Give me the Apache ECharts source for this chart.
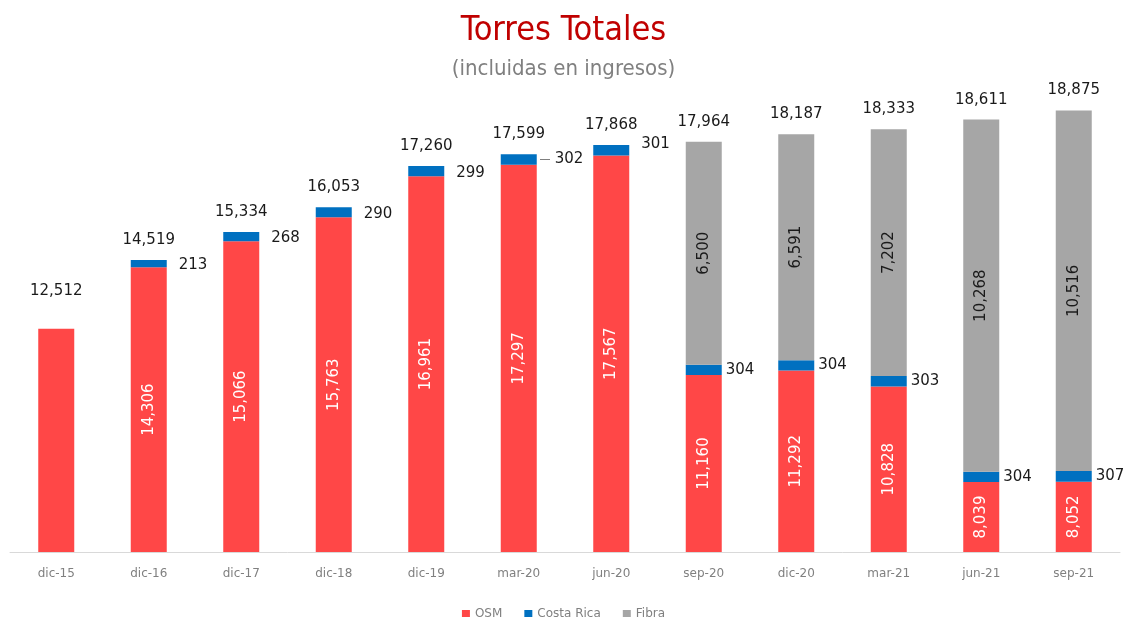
<!DOCTYPE html>
<html>
<head>
<meta charset="utf-8">
<script src="https://cdn.jsdelivr.net/npm/echarts@6/dist/echarts.min.js"></script>
<style>
  html, body { margin: 0; padding: 0; background: #fff; }
  #chart { width: 1127px; height: 617px; }
</style>
</head>
<body>
<div id="chart"></div>
<script>
const categories = ['dic-15', 'dic-16', 'dic-17', 'dic-18', 'dic-19', 'mar-20', 'jun-20', 'sep-20', 'dic-20', 'mar-21', 'jun-21', 'sep-21'];
const osm = [12512, 14306, 15066, 15763, 16961, 17297, 17567, 11160, 11292, 10828, 8039, 8052];
const costaRica = [null, 213, 268, 290, 299, 302, 301, 304, 304, 303, 304, 307];
const fibra = [null, null, null, null, null, null, null, 6500, 6591, 7202, 10268, 10516];
const totals = [12512, 14519, 15334, 16053, 17260, 17599, 17868, 17964, 18187, 18333, 18611, 18875];

// the original chart's value axis starts at 6,000 (hidden), so bars are drawn from there
const axisBase = 6000;

const fmt = v => v.toLocaleString('en-US');
const numFont = "'DejaVu Sans', sans-serif";
const narrowFont = "'Liberation Sans Narrow', 'DejaVu Sans Condensed', sans-serif";

const node = document.getElementById('chart');
const myChart = echarts.init(node);

myChart.setOption({
  animation: false,
  title: [
    {
      text: 'Torres Totales',
      left: 'center',
      top: 9,
      textStyle: {color: '#C00000', fontSize: 34, fontWeight: 'normal', fontFamily: narrowFont}
    },
    {
      text: '(incluidas en ingresos)',
      left: 'center',
      top: 53,
      textStyle: {color: '#808080', fontSize: 22, fontWeight: 'normal', fontFamily: narrowFont}
    }
  ],
  legend: {
    data: ['OSM', 'Costa Rica', 'Fibra'],
    top: 603,
    left: 'center',
    icon: 'rect',
    itemWidth: 8,
    itemHeight: 8,
    itemGap: 22,
    textStyle: {color: '#808080', fontSize: 12, fontFamily: numFont}
  },
  grid: {left: 10, right: 7, top: 72, bottom: 65},
  xAxis: {
    type: 'category',
    data: categories,
    axisLine: {lineStyle: {color: '#d9d9d9', width: 1}},
    axisTick: {show: false},
    axisLabel: {color: '#808080', fontSize: 12, margin: 16, fontFamily: numFont}
  },
  yAxis: {
    type: 'value',
    min: 0,
    max: 14000,
    show: false,
    splitLine: {show: false}
  },
  series: [
    {
      name: 'OSM',
      type: 'bar',
      stack: 'torres',
      barWidth: 36,
      itemStyle: {color: '#FF4747'},
      data: osm.map((v, i) => ({
        value: v - axisBase,
        label: {show: i > 0}
      })),
      label: {
        show: true,
        position: 'inside',
        rotate: 90,
        color: '#ffffff',
        fontSize: 15,
        fontFamily: numFont,
        formatter: p => fmt(osm[p.dataIndex])
      }
    },
    {
      name: 'Costa Rica',
      type: 'bar',
      stack: 'torres',
      barWidth: 36,
      itemStyle: {color: '#0070C0'},
      data: costaRica.map((v, i) => {
        const item = {
          value: v,
          label: i < 7
            ? {distance: 12, offset: i === 6 ? [0, -6] : [0, 2]}
            : {distance: 4}
        };
        if (i === 5) {
          item.label = {distance: 4, offset: [14, 0]};
        }
        return item;
      }),
      label: {
        show: true,
        position: 'right',
        color: '#1a1a1a',
        fontSize: 15,
        fontFamily: numFont,
        formatter: p => fmt(p.value)
      }
    },
    {
      name: 'Fibra',
      type: 'bar',
      stack: 'torres',
      barWidth: 36,
      itemStyle: {color: '#A6A6A6'},
      data: fibra,
      label: {
        show: true,
        position: 'inside',
        rotate: 90,
        color: '#1a1a1a',
        fontSize: 15,
        fontFamily: numFont,
        formatter: p => fmt(p.value)
      }
    },
    {
      // leader line of the mar-20 Costa Rica label
      name: 'leader',
      type: 'line',
      symbol: 'none',
      silent: true,
      data: costaRica.map(() => null),
      markLine: {
        silent: true,
        symbol: 'none',
        label: {show: false},
        lineStyle: {color: '#7f7f7f', type: 'solid', width: 1},
        data: [[
          {coord: [5, osm[5] - axisBase + costaRica[5] / 2], x: 540},
          {coord: [5, osm[5] - axisBase + costaRica[5] / 2], x: 550}
        ]]
      }
    },
    {
      name: 'Total',
      type: 'line',
      symbol: 'circle',
      symbolSize: 1,
      itemStyle: {color: 'rgba(0,0,0,0)'},
      lineStyle: {opacity: 0},
      data: totals.map((v, i) => ({
        value: v - axisBase,
        label: {distance: i === 0 ? 30 : 12}
      })),
      label: {
        show: true,
        position: 'top',
        color: '#1a1a1a',
        fontSize: 15,
        fontFamily: numFont,
        formatter: p => fmt(totals[p.dataIndex])
      },
      z: 5
    }
  ]
});
</script>
</body>
</html>
